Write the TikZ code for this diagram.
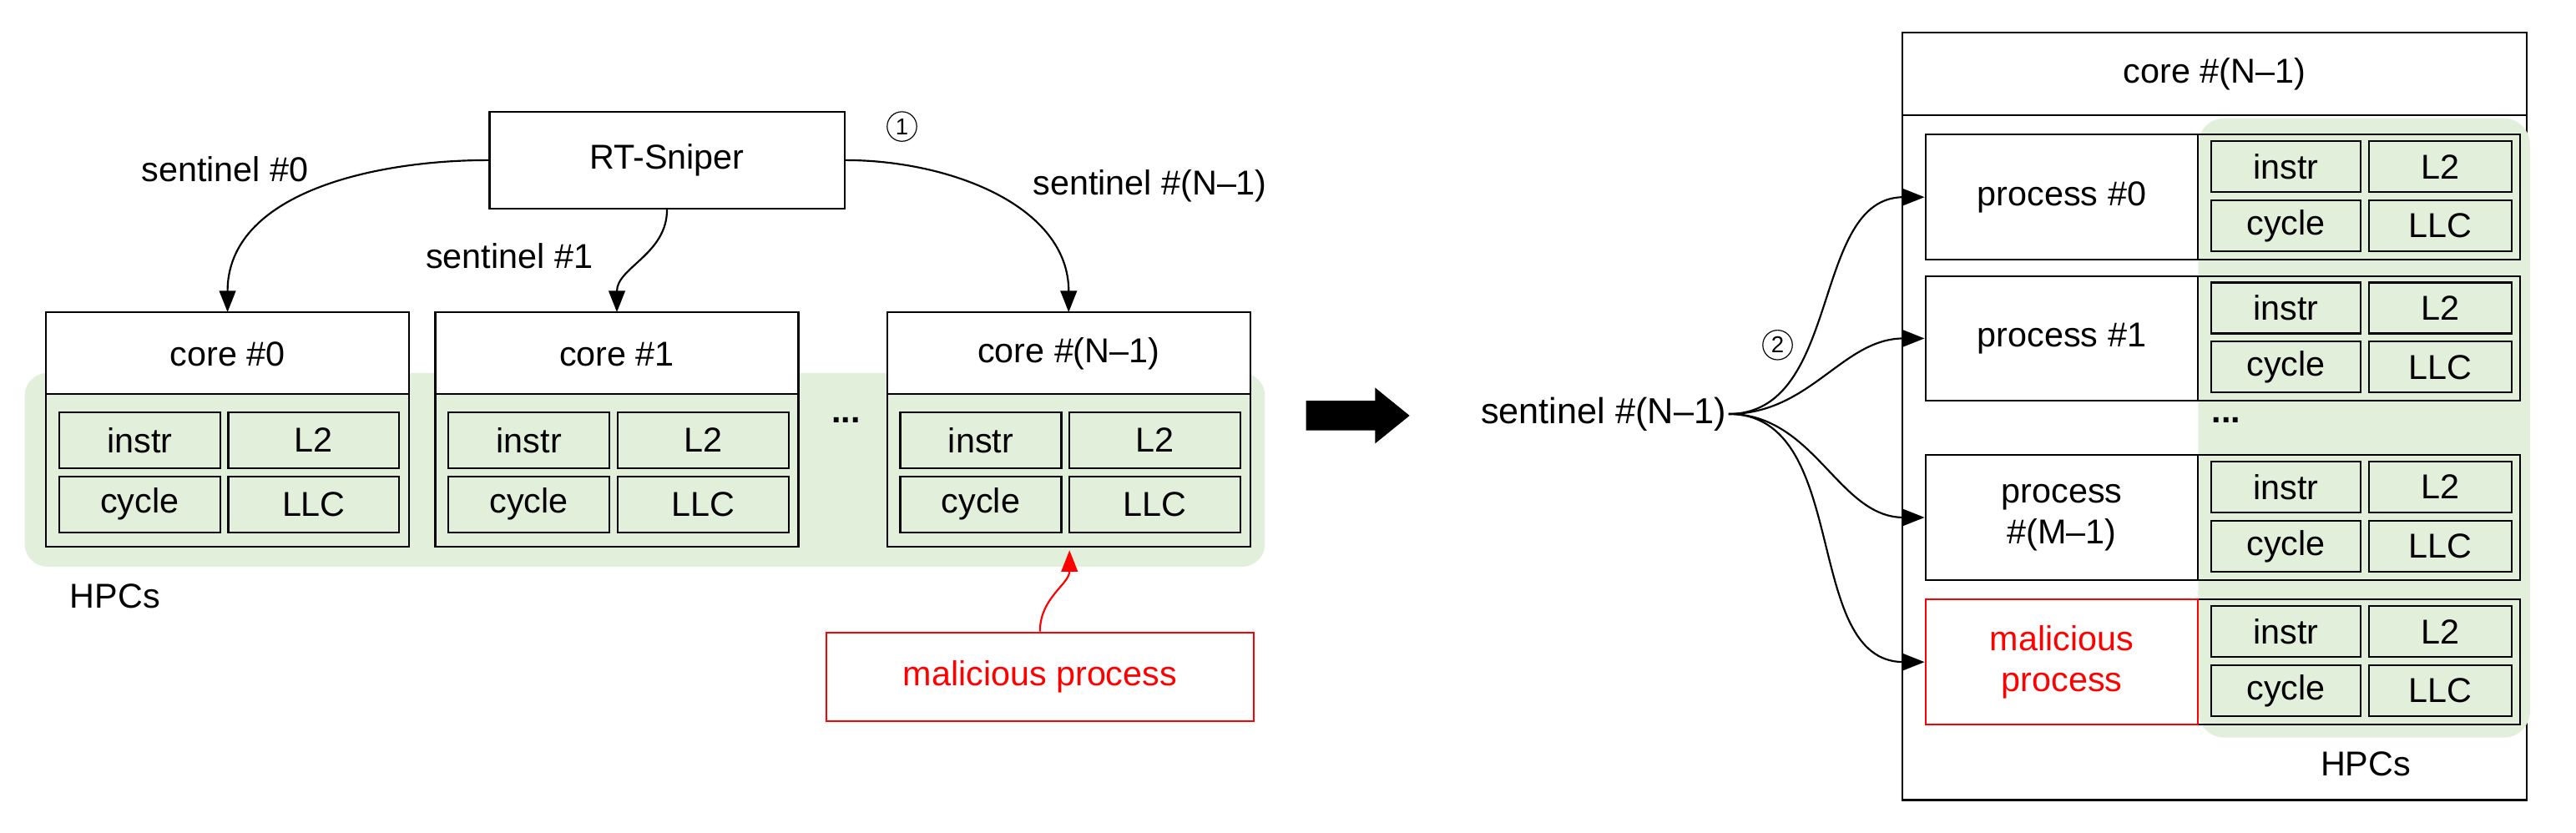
\documentclass[tikz,border=0pt]{standalone}
\usepackage{fontspec}
\setmainfont{Liberation Sans}
\usetikzlibrary{arrows.meta}

\definecolor{hpcgreen}{HTML}{E2EFDA}
\tikzset{
  every path/.style = {line width=1.1pt},
  box/.style = {draw, fill=white, inner sep=0pt},
  cell/.style = {draw, fill=hpcgreen, inner sep=0pt, minimum height=#1},
  lbl/.style = {inner sep=1pt},
  stepnum/.style = {draw, circle, line width=0.6pt, inner sep=0pt, minimum size=18pt, font=\fontsize{14}{14}\selectfont},
  link/.style = {-{Triangle[length=13pt,width=10pt]}},
}
\newcommand\hpccells[6]{% name, x left, y top, w1, w2, h
  \node[cell=#6, minimum width=#4] (#1i) at (#2+#4/2, #3+#6/2) {instr};
  \node[cell=#6, minimum width=#5] (#1l) at (#2+#4+5+#5/2, #3+#6/2) {L2};
  \node[cell=#6, minimum width=#4] (#1c) at (#2+#4/2, #3+#6*1.5+5) {cycle};
  \node[cell=#6, minimum width=#5] (#1m) at (#2+#4+5+#5/2, #3+#6*1.5+5) {LLC};
}

\begin{document}
\begin{tikzpicture}[x=1pt, y=-1pt, font=\fontsize{21}{25}\selectfont]
  \useasboundingbox (0,0) rectangle (1568,506.6);

  % left part
  \fill[hpcgreen, rounded corners=14pt] (15,227) rectangle (770,345);
  \node[box, minimum width=216, minimum height=59] (sniper) at (406,97.5) {RT-Sniper};
  \node[stepnum] (one) at (549,77) {1};

  \foreach \n/\x/\t in {c0/28/core \#0, c1/265/core \#1, cn/540/core \#(N--1)} {
    \draw (\x,190) rectangle ++(221,143);
    \draw[fill=white] (\x,190) rectangle ++(221,50);
    \node (\n) at (\x+110.5,190) [anchor=north, minimum height=50] {\t};
    \hpccells{\n}{\x+8}{251}{98}{104}{34}
  }
  \node (dots) at (515,256) {\textbf{...}};
  \node (hpcl) at (70,363) {HPCs};

  \node[lbl] (s0) at (137,103) {sentinel \#0};
  \node[lbl] (s1) at (310,156) {sentinel \#1};
  \node[lbl] (sn) at (700,113) {sentinel \#(N--1)};
  \draw[link] (sniper.west) to[out=180, in=90] (c0.north);
  \draw[link] (sniper.south) to[out=-90, in=90] (c1.north);
  \draw[link] (sniper.east) to[out=0, in=90] (cn.north);

  \node[draw=red, text=red, minimum width=260, minimum height=54] (mal) at (633,412) {malicious process};
  \draw[red, -{Triangle[length=13pt,width=10pt]}] (mal.north) to[out=90, in=-90] (651,335);

  % right part
  \fill (795,244) -- (837,244) -- (837,236) -- (858,253) -- (837,270) -- (837,262) -- (795,262) -- cycle;
  \node[lbl, font=\fontsize{22}{26}\selectfont] (sent) at (976,252) {sentinel \#(N--1)};
  \node[stepnum] (two) at (1082,210) {2};

  \draw (1158,20) rectangle (1538,487);
  \draw (1158,70) -- (1538,70);
  \node (core) at (1348,45) {core \#(N--1)};
  \fill[hpcgreen, rounded corners=16pt] (1338,72) rectangle (1540,449);
  \node (hpcr) at (1440,465) {HPCs};
  \node (pdots) at (1355,256) {\textbf{...}};

  \foreach \n/\y/\t/\c in {p0/82/process \#0/black, p1/168/process \#1/black,
                           pm/277/{process\\\#(M--1)}/black, px/365/{malicious\\process}/red} {
    \draw (1338,\y) rectangle (1534,\y+76);
    \node[draw=\c, fill=white, text=\c, align=center, minimum width=166, minimum height=76, inner sep=0pt]
      (\n) at (1255,\y+38) {\t};
    \hpccells{\n h}{1346}{\y+4}{91}{87}{31}
  }

  \foreach \p in {p0, p1, pm, px}
    \draw[link] (sent.east) to[out=0, in=180] (\p.west);
\end{tikzpicture}
\end{document}
